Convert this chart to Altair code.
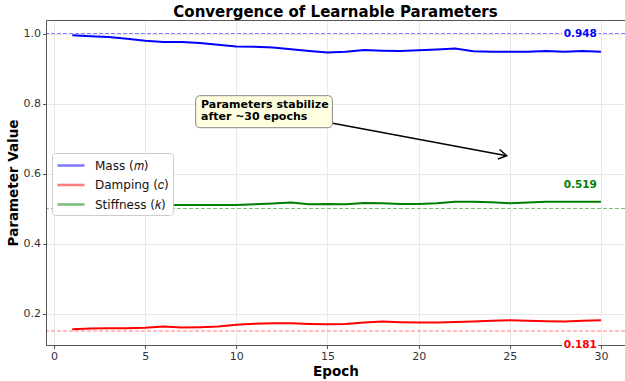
import altair as alt
import pandas as pd

# ---------------- data ----------------
epochs = list(range(1, 31))
mass = [0.995, 0.992, 0.990, 0.985, 0.979, 0.976, 0.976, 0.973, 0.968, 0.963,
        0.962, 0.960, 0.955, 0.950, 0.946, 0.948, 0.953, 0.951, 0.950, 0.952,
        0.954, 0.957, 0.949, 0.948, 0.948, 0.948, 0.950, 0.948, 0.950, 0.948]
damping = [0.155, 0.157, 0.158, 0.158, 0.159, 0.163, 0.160, 0.161, 0.163, 0.168,
           0.171, 0.172, 0.172, 0.170, 0.169, 0.170, 0.174, 0.177, 0.175, 0.174,
           0.174, 0.176, 0.177, 0.179, 0.181, 0.179, 0.178, 0.177, 0.179, 0.181]
stiffness = [0.502, 0.505, 0.507, 0.509, 0.510, 0.510, 0.510, 0.510, 0.510, 0.510,
             0.512, 0.514, 0.517, 0.512, 0.513, 0.512, 0.516, 0.515, 0.513, 0.513,
             0.515, 0.519, 0.519, 0.518, 0.515, 0.517, 0.519, 0.519, 0.519, 0.519]

series_names = ["Mass (𝑚)", "Damping (𝑐)", "Stiffness (𝑘)"]
series_colors = ["#0000ff", "#ff0000", "#008000"]
true_values = [1.0, 0.15, 0.5]
label_values = [1.0, 0.1086, 0.567]   # where the final-value labels sit
x_ticks = [0, 5, 10, 15, 20, 25, 30]
y_ticks = [0.2, 0.4, 0.6, 0.8, 1.0]
annotation_text = ["Parameters stabilize", "after ~30 epochs"]

# ---------------- tables ----------------
rows = []
for name, vals in zip(series_names, [mass, damping, stiffness]):
    for e, v in zip(epochs, vals):
        rows.append({"epoch": e, "value": v, "series": name})
lines_df = pd.DataFrame(rows)

finals = [mass[-1], damping[-1], stiffness[-1]]
ref_df = pd.DataFrame({"value": true_values, "color": series_colors})
lab_df = pd.DataFrame({
    "x": [29.78] * 3,
    "x0": [27.87] * 3,
    "x1": [29.86] * 3,
    "y": label_values,
    "y0": [v - 0.018 for v in label_values],
    "y1": [v + 0.018 for v in label_values],
    "text": [f"{v:.3f}" for v in finals],
    "color": series_colors,
})
arrow_df = pd.DataFrame({"x": [15.29], "y": [0.7435], "x2": [24.83], "y2": [0.6509]})
box_df = pd.DataFrame({"x": [7.77], "x2": [15.27], "y": [0.8223], "y2": [0.7309]})
txt_df = pd.DataFrame({"x": [8.06], "y": [0.795], "text": [annotation_text]})

xs = alt.Scale(domain=[-0.44, 31.32], nice=False, zero=False)
ys = alt.Scale(domain=[0.110, 1.0386], nice=False, zero=False)

AX = "#555555"
GRID = "#e9e9e9"

# ---------------- layers ----------------
ref = alt.Chart(ref_df).mark_rule(strokeDash=[4, 2], strokeWidth=1, opacity=0.5).encode(
    y=alt.Y("value:Q", scale=ys, axis=None),
    color=alt.Color("color:N", scale=None),
)

top_frame = alt.Chart(ref_df).mark_point(opacity=0).encode(
    x=alt.X("value:Q", scale=xs,
            axis=alt.Axis(orient="top", labels=False, ticks=False, grid=False,
                          domain=True, domainColor=AX, title=None)),
    y=alt.Y("value:Q", scale=ys, axis=None),
)

lines = alt.Chart(lines_df).mark_line(strokeWidth=2).encode(
    x=alt.X("epoch:Q", scale=xs,
            axis=alt.Axis(values=x_ticks, title="Epoch", grid=True, gridColor=GRID,
                          domainColor=AX, tickColor=AX, tickSize=3.5, labelFontSize=11,
                          labelColor="#333333", labelPadding=2, titleFontSize=13.5,
                          titleFontWeight="bold", titleColor="#000000", titlePadding=3)),
    y=alt.Y("value:Q", scale=ys,
            axis=alt.Axis(values=y_ticks, format=".1f", title="Parameter Value", grid=True,
                          gridColor=GRID, domainColor=AX, tickColor=AX, tickSize=3.5,
                          labelFontSize=11, labelColor="#333333", labelPadding=2,
                          titleFontSize=13.5, titleFontWeight="bold", titleColor="#000000",
                          titlePadding=3)),
    color=alt.Color("series:N", sort=series_names,
                    scale=alt.Scale(domain=series_names, range=series_colors),
                    legend=alt.Legend(title=None, orient="none", legendX=6, legendY=133,
                                      symbolType="M -1.93 0 L 1.93 0", symbolStrokeWidth=2.6,
                                      symbolSize=196, symbolOpacity=1, symbolOffset=6.5,
                                      labelFontSize=12, labelColor="#111111",
                                      labelOffset=15.5, rowPadding=4.5, padding=4,
                                      fillColor="white", strokeColor="#cccccc",
                                      cornerRadius=3)),
)

lab_bg = alt.Chart(lab_df).mark_rect(fill="white").encode(
    x=alt.X("x0:Q", scale=xs, axis=None), x2="x1:Q",
    y=alt.Y("y0:Q", scale=ys, axis=None), y2="y1:Q",
)
labels = alt.Chart(lab_df).mark_text(align="right", baseline="middle", fontSize=10.5,
                                     fontWeight="bold").encode(
    x=alt.X("x:Q", scale=xs, axis=None),
    y=alt.Y("y:Q", scale=ys, axis=None),
    text="text:N",
    color=alt.Color("color:N", scale=None),
)

arrow = alt.Chart(arrow_df).mark_rule(color="black", strokeWidth=1.5).encode(
    x=alt.X("x:Q", scale=xs, axis=None), x2="x2:Q",
    y=alt.Y("y:Q", scale=ys, axis=None), y2="y2:Q",
)
head = alt.Chart(arrow_df).mark_point(shape="M -1 -0.6 L 0 0 L -1 0.6", filled=False,
                                      color="black", strokeWidth=1.5, size=260,
                                      angle=10.4, opacity=1).encode(
    x=alt.X("x2:Q", scale=xs, axis=None),
    y=alt.Y("y2:Q", scale=ys, axis=None),
)
box = alt.Chart(box_df).mark_rect(fill="#ffffe0", stroke="#888888", strokeWidth=1,
                                  cornerRadius=4).encode(
    x=alt.X("x:Q", scale=xs, axis=None), x2="x2:Q",
    y=alt.Y("y:Q", scale=ys, axis=None), y2="y2:Q",
)
box_txt = alt.Chart(txt_df).mark_text(align="left", baseline="middle", fontSize=11,
                                      fontWeight="bold", lineHeight=12,
                                      color="black").encode(
    x=alt.X("x:Q", scale=xs, axis=None),
    y=alt.Y("y:Q", scale=ys, axis=None),
    text="text",
)

chart = alt.layer(
    ref, lines, top_frame, lab_bg, labels, arrow, head, box, box_txt
).resolve_axis(x="independent", y="independent").properties(
    width=579, height=325,
    autosize=alt.AutoSizeParams(type="none"),
    padding={"left": 46, "top": 20, "right": 0, "bottom": 36},
    title=alt.TitleParams("Convergence of Learnable Parameters", fontSize=15,
                          fontWeight="bold", anchor="middle", offset=0, color="#000000"),
).configure(font="DejaVu Sans").configure_view(stroke=None)

chart.save("out.html", embed_options={"renderer": "svg", "actions": False})
